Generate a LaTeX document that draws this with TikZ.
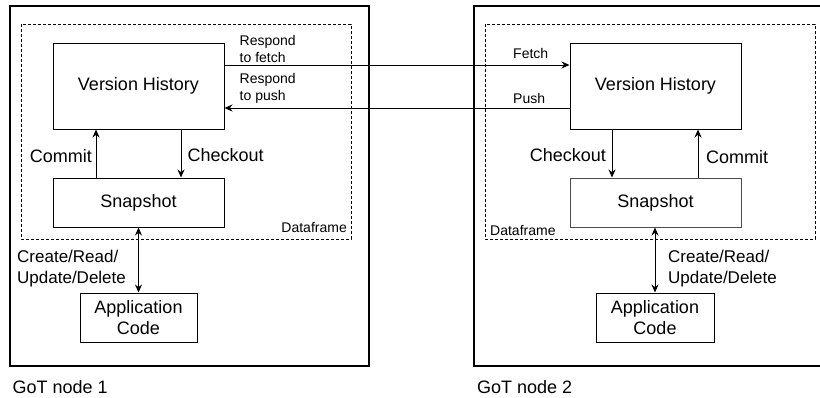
\documentclass[tikz,border=0pt]{standalone}
\usepackage{fontspec}
\setmainfont{Liberation Sans}
\usetikzlibrary{arrows.meta}

\tikzset{
  box/.style={draw=black, line width=1pt, rectangle, inner sep=0pt,
    align=center, font=\fontsize{18}{21.5}\selectfont},
  lbl/.style={inner sep=0pt, font=\fontsize{18}{21}\selectfont, align=left},
  crudlbl/.style={inner sep=0pt, font=\fontsize{17}{21}\selectfont, align=left},
  smalllbl/.style={inner sep=0pt, font=\fontsize{14}{17}\selectfont, align=left},
  frame/.style={draw=black, line width=1.2pt},
  dashframe/.style={draw=black, line width=1pt, dash pattern=on 3pt off 2pt},
  conn/.style={line width=1pt, -{Stealth[length=8pt,width=7pt]}},
  biconn/.style={line width=1pt, {Stealth[length=8pt,width=7pt]}-{Stealth[length=8pt,width=7pt]}},
}

\begin{document}
\begin{tikzpicture}[x=1pt, y=-1pt]
\useasboundingbox (0,0) rectangle (820,397);
\begin{scope}
\clip (0,0) rectangle (820,397);

% outer frames of the two nodes
\draw[frame] (10,6) rectangle (369,366);
\draw[frame] (474,6) rectangle (830,366);

% dataframe regions
\draw[dashframe] (21,24) rectangle (351,239);
\draw[dashframe] (485,24) rectangle (815,239);

% node 1
\node[box, minimum width=171pt, minimum height=86pt] (vh1) at (138.5,86) {Version History};
\node[box, minimum width=171pt, minimum height=49pt] (snap1) at (138.5,202.5) {Snapshot};
\node[box, minimum width=117pt, minimum height=49pt] (app1) at (138.5,317.5) {Application\\Code};

% node 2
\node[box, minimum width=171pt, minimum height=86pt] (vh2) at (655.5,86) {Version History};
\node[box, draw=black!70, minimum width=171pt, minimum height=49pt] (snap2) at (655.5,202.5) {Snapshot};
\node[box, minimum width=118pt, minimum height=49pt] (app2) at (655,317.5) {Application\\Code};

% local connectors, node 1
\draw[conn] ([xshift=-42.5pt]snap1.north) -- ([xshift=-42.5pt]vh1.south);
\draw[conn] ([xshift=42.5pt]vh1.south) -- ([xshift=42.5pt]snap1.north);
\draw[biconn] (snap1.south) -- (app1.north);

% local connectors, node 2
\draw[conn] ([xshift=-43.5pt]vh2.south) -- ([xshift=-43.5pt]snap2.north);
\draw[conn] ([xshift=42.5pt]snap2.north) -- ([xshift=42.5pt]vh2.south);
\draw[biconn] (snap2.south -| app2.north) -- (app2.north);

% fetch / push between the nodes
\draw[conn] ([yshift=21pt]vh1.east) -- ([yshift=21pt]vh2.west);
\draw[conn] ([yshift=-22pt]vh2.west) -- ([yshift=-22pt]vh1.east);

% labels
\node[smalllbl, anchor=west] (rf) at (239.5,48.5) {Respond\\to fetch};
\node[smalllbl, anchor=west] (rp) at (239.5,88.5) {Respond\\to push};
\node[smalllbl, anchor=west] (fe) at (513,53) {Fetch};
\node[smalllbl, anchor=west] (pu) at (513,98) {Push};

\node[lbl, anchor=east] (cm1) at (92,156) {Commit};
\node[lbl, anchor=west] (co1) at (187.5,155) {Checkout};
\node[lbl, anchor=east] (co2) at (606,155) {Checkout};
\node[lbl, anchor=west] (cm2) at (706,157) {Commit};

\node[smalllbl, anchor=east] (df1) at (347,227) {Dataframe};
\node[smalllbl, anchor=west] (df2) at (490,230) {Dataframe};

\node[crudlbl, anchor=west] (crud1) at (17,268.5) {Create/Read/\\Update/Delete};
\node[crudlbl, anchor=west] (crud2) at (668,268.5) {Create/Read/\\Update/Delete};

\node[lbl, anchor=west] (got1) at (12.5,387) {GoT node 1};
\node[lbl, anchor=west] (got2) at (477,387) {GoT node 2};
\end{scope}
\end{tikzpicture}
\end{document}
